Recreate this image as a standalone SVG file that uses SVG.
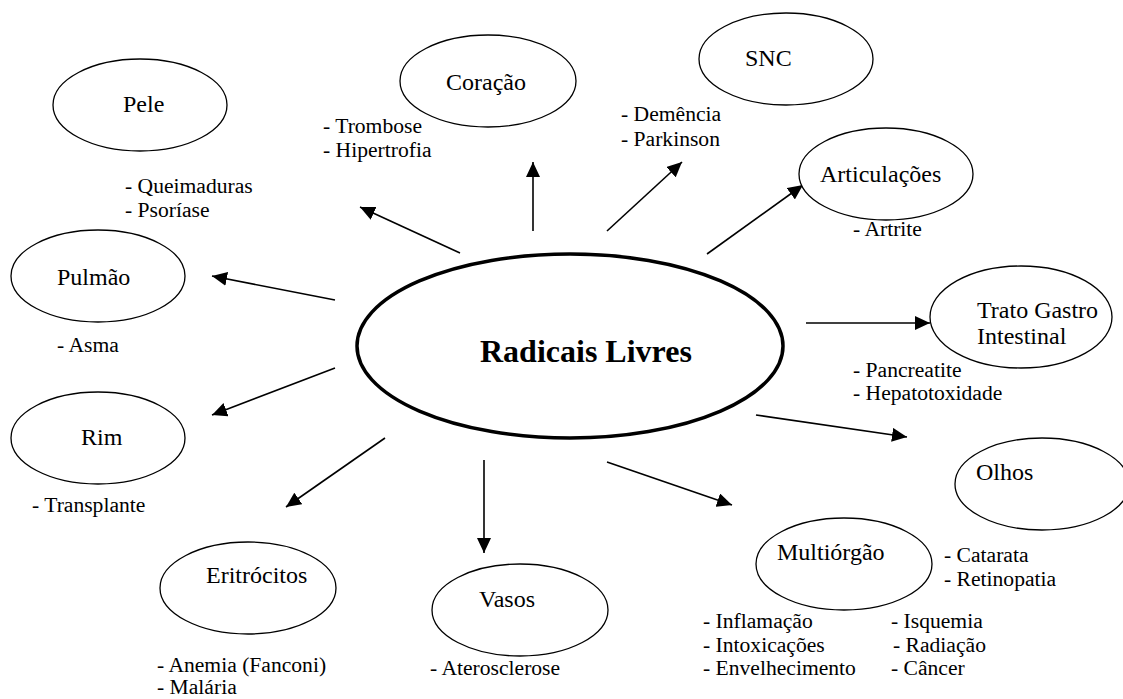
<svg xmlns="http://www.w3.org/2000/svg" width="1123" height="699" viewBox="0 0 1123 699">
<style>
.n{fill:#fff;stroke:#000;stroke-width:1.3}
.c{fill:#fff;stroke:#000;stroke-width:3.5}
.t{font-family:"Liberation Serif","Times New Roman",serif;font-size:24px;fill:#000}
.s{font-family:"Liberation Serif","Times New Roman",serif;font-size:21.6px;fill:#000}
.b{font-family:"Liberation Serif","Times New Roman",serif;font-size:32px;font-weight:bold;fill:#000}
.a{stroke:#000;stroke-width:1.6;fill:none;marker-end:url(#ah)}
</style>
<defs>
<marker id="ah" markerUnits="userSpaceOnUse" markerWidth="16" markerHeight="14" refX="15" refY="7" orient="auto">
<path d="M0,0 L15,7 L0,14 z" fill="#000"/>
</marker>
</defs>
<rect width="1123" height="699" fill="#fff"/>
<g id="connectors">
<line class="a" x1="460" y1="253" x2="360" y2="207"/>
<line class="a" x1="335" y1="300" x2="212" y2="276"/>
<line class="a" x1="533" y1="231" x2="533" y2="162"/>
<line class="a" x1="607" y1="231" x2="682" y2="162"/>
<line class="a" x1="707" y1="254" x2="803" y2="185"/>
<line class="a" x1="806" y1="323" x2="930" y2="323"/>
<line class="a" x1="756" y1="415" x2="907" y2="437"/>
<line class="a" x1="607" y1="462" x2="732" y2="505"/>
<line class="a" x1="484" y1="460" x2="484" y2="553"/>
<line class="a" x1="385" y1="438" x2="286" y2="507"/>
<line class="a" x1="335" y1="368" x2="212" y2="415"/>
</g>
<g id="radicais">
<ellipse class="c" cx="570" cy="346" rx="213" ry="92"/>
<text class="b" x="480" y="362">Radicais Livres</text>
</g>
<g id="pele">
<ellipse class="n" cx="140" cy="105" rx="87" ry="46"/>
<text class="t" x="123" y="112">Pele</text>
<text class="s" x="125" y="193">- Queimaduras</text>
<text class="s" x="125" y="217">- Psoríase</text>
</g>
<g id="coracao">
<ellipse class="n" cx="488" cy="81" rx="88" ry="46"/>
<text class="t" x="446" y="90">Coração</text>
<text class="s" x="323" y="133">- Trombose</text>
<text class="s" x="323" y="157">- Hipertrofia</text>
</g>
<g id="snc">
<ellipse class="n" cx="786" cy="59" rx="87" ry="46"/>
<text class="t" x="745" y="66">SNC</text>
<text class="s" x="621" y="121">- Demência</text>
<text class="s" x="621" y="146">- Parkinson</text>
</g>
<g id="articulacoes">
<ellipse class="n" cx="886" cy="174" rx="87" ry="46"/>
<text class="t" x="820" y="182">Articulações</text>
<text class="s" x="853" y="236">- Artrite</text>
</g>
<g id="trato">
<ellipse class="n" cx="1021" cy="317" rx="91" ry="51"/>
<text class="t" x="977" y="318">Trato Gastro</text>
<text class="t" x="977" y="344">Intestinal</text>
<text class="s" x="853" y="377">- Pancreatite</text>
<text class="s" x="853" y="400">- Hepatotoxidade</text>
</g>
<g id="pulmao">
<ellipse class="n" cx="98" cy="276" rx="87" ry="46"/>
<text class="t" x="57" y="285">Pulmão</text>
<text class="s" x="57" y="352">- Asma</text>
</g>
<g id="rim">
<ellipse class="n" cx="98" cy="438" rx="87" ry="46"/>
<text class="t" x="81" y="445">Rim</text>
<text class="s" x="32" y="512">- Transplante</text>
</g>
<g id="olhos">
<ellipse class="n" cx="1042" cy="484" rx="87" ry="46"/>
<text class="t" x="976" y="480">Olhos</text>
<text class="s" x="944" y="562">- Catarata</text>
<text class="s" x="944" y="586">- Retinopatia</text>
</g>
<g id="multiorgao">
<ellipse class="n" cx="844" cy="564" rx="88" ry="46"/>
<text class="t" x="777" y="560">Multiórgão</text>
<text class="s" x="703" y="628">- Inflamação</text>
<text class="s" x="703" y="652">- Intoxicações</text>
<text class="s" x="703" y="675">- Envelhecimento</text>
<text class="s" x="891" y="628">- Isquemia</text>
<text class="s" x="893" y="652">- Radiação</text>
<text class="s" x="891" y="675">- Câncer</text>
</g>
<g id="eritrocitos">
<ellipse class="n" cx="248" cy="588" rx="88" ry="46"/>
<text class="t" x="206" y="583">Eritrócitos</text>
<text class="s" x="157" y="672">- Anemia (Fanconi)</text>
<text class="s" x="157" y="694">- Malária</text>
</g>
<g id="vasos">
<ellipse class="n" cx="520" cy="610" rx="88" ry="46"/>
<text class="t" x="479" y="607">Vasos</text>
<text class="s" x="430" y="675">- Aterosclerose</text>
</g>
</svg>
